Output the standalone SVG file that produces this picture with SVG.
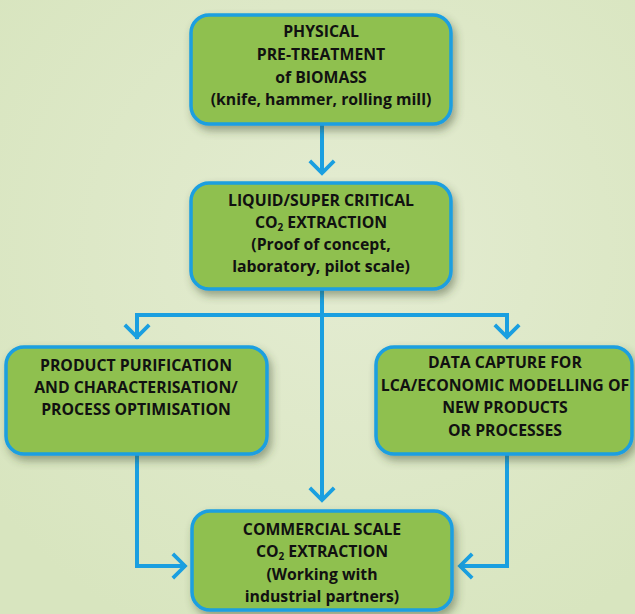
<svg xmlns="http://www.w3.org/2000/svg" width="635" height="614" viewBox="0 0 635 614">
<style>
.box{fill:#8fc04f;stroke:#1a9fe0;stroke-width:3.5;filter:url(#sh)}
.t{font-family:"Open Sans",Roboto,"Liberation Sans",sans-serif;font-weight:bold;font-size:15.8px;fill:#111;text-anchor:middle}
.sub{font-size:10px}
.c{fill:none;stroke:#1a9fe0;stroke-width:4}
</style>
<defs>
<filter id="sh" x="-10%" y="-10%" width="125%" height="130%">
<feDropShadow dx="3" dy="5" stdDeviation="4" flood-color="#3a4a2a" flood-opacity="0.45"/>
</filter>
<marker id="ah" markerUnits="userSpaceOnUse" markerWidth="30" markerHeight="30" viewBox="-16 -16 20 32" refX="0" refY="0" orient="auto">
<path d="M-13,-13 L0,0 L-13,13" fill="none" stroke="#1a9fe0" stroke-width="4"/>
</marker>
<radialGradient id="bg" cx="0.55" cy="0.4" r="0.7">
<stop offset="0" stop-color="#e4ecd2"/>
<stop offset="1" stop-color="#d8e5bf"/>
</radialGradient>
</defs>
<rect width="635" height="614" fill="url(#bg)"/>
<g id="connectors">
<path class="c" d="M322,125 V173" marker-end="url(#ah)"/>
<path class="c" d="M322,290 V500" marker-end="url(#ah)"/>
<path class="c" d="M137,339 V315 H507 V337" marker-end="url(#ah)"/>
<path class="c" d="M137,315 V337" marker-end="url(#ah)"/>
<path class="c" d="M137,455 V566 H185" marker-end="url(#ah)"/>
<path class="c" d="M507,455 V566 H460" marker-end="url(#ah)"/>
</g>
<g id="n1">
<rect class="box" x="191" y="15" width="260" height="109" rx="18"/>
<text class="t" x="321" y="37">PHYSICAL</text>
<text class="t" x="321" y="60">PRE-TREATMENT</text>
<text class="t" x="321" y="82.5">of BIOMASS</text>
<text class="t" x="321" y="105">(knife, hammer, rolling mill)</text>
</g>
<g id="n2">
<rect class="box" x="191" y="183" width="260" height="106" rx="18"/>
<text class="t" x="321" y="206">LIQUID/SUPER CRITICAL</text>
<text class="t" x="321" y="228">CO<tspan class="sub" dy="3">2</tspan><tspan dy="-3"> EXTRACTION</tspan></text>
<text class="t" x="321" y="250">(Proof of concept,</text>
<text class="t" x="321" y="272">laboratory, pilot scale)</text>
</g>
<g id="n3">
<rect class="box" x="6" y="347" width="261" height="107" rx="18"/>
<text class="t" x="136" y="371">PRODUCT PURIFICATION</text>
<text class="t" x="136" y="393">AND CHARACTERISATION/</text>
<text class="t" x="136" y="415">PROCESS OPTIMISATION</text>
</g>
<g id="n4">
<rect class="box" x="376" y="347" width="256" height="107" rx="18"/>
<text class="t" x="505" y="368">DATA CAPTURE FOR</text>
<text class="t" x="505" y="391">LCA/ECONOMIC MODELLING OF</text>
<text class="t" x="505" y="413">NEW PRODUCTS</text>
<text class="t" x="505" y="436">OR PROCESSES</text>
</g>
<g id="n5">
<rect class="box" x="192" y="511" width="260" height="99" rx="18"/>
<text class="t" x="322" y="535">COMMERCIAL SCALE</text>
<text class="t" x="322" y="557">CO<tspan class="sub" dy="3">2</tspan><tspan dy="-3"> EXTRACTION</tspan></text>
<text class="t" x="322" y="580">(Working with</text>
<text class="t" x="322" y="602">industrial partners)</text>
</g>
</svg>
